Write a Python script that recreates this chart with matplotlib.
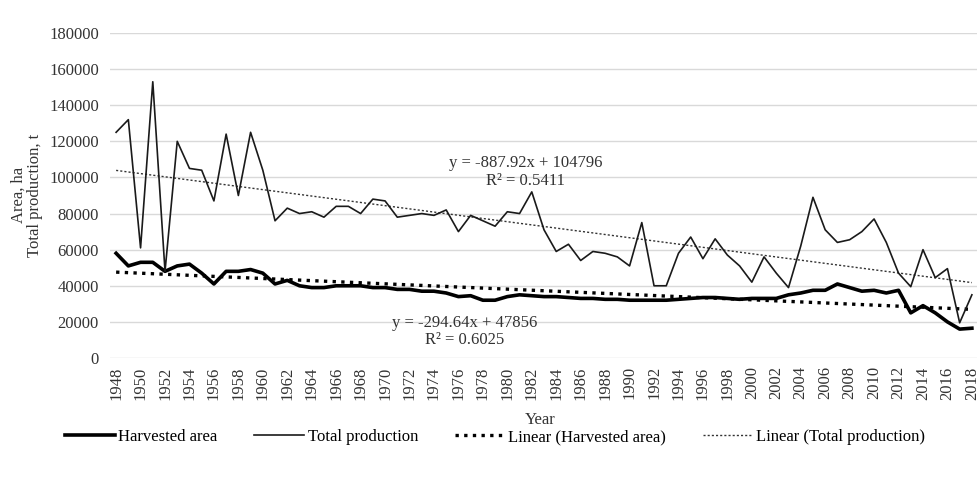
import numpy as np
import matplotlib
matplotlib.use("Agg")
import matplotlib.pyplot as plt

plt.rcParams['font.family'] = ['Liberation Serif', 'DejaVu Serif']

# Years and series
years = list(range(1948, 2019))

harvested_area = [58000, 51000, 53000, 53000, 48000, 51000, 52000, 47000, 41000, 48000,
                  48000, 49000, 47000, 41000, 43000, 40000, 39000, 39000, 40000, 40000,
                  40000, 39000, 39000, 38000, 38000, 37000, 37000, 36000, 34000, 34500,
                  32000, 32000, 34000, 35000, 34500, 34000, 34000, 33500, 33000, 33000,
                  32500, 32500, 32000, 32000, 32000, 32000, 32500, 33000, 33500, 33500,
                  33000, 32500, 33000, 33000, 33000, 35000, 36000, 37500, 37500, 41000,
                  39000, 37000, 37500, 36000, 37500, 25000, 29000, 25000, 20000, 16000,
                  16500]

total_production = [125000, 132000, 61000, 153000, 48000, 120000, 105000, 104000, 87000, 124000,
                    90000, 125000, 104000, 76000, 83000, 80000, 81000, 78000, 84000, 84000,
                    80000, 88000, 87000, 78000, 79000, 80000, 79000, 82000, 70000, 79000,
                    76000, 73000, 81000, 80000, 92000, 71000, 59000, 63000, 54000, 59000,
                    58000, 56000, 51000, 75000, 40000, 40000, 58000, 67000, 55000, 66000,
                    57000, 51000, 42000, 56000, 47000, 39000, 62000, 89000, 71000, 64000,
                    65500, 70000, 77000, 64000, 47000, 39500, 60000, 44500, 49500, 19500,
                    35000]

# Linear trend coefficients as printed on the chart (x = 1..71)
trend_area = (-294.64, 47856)
trend_prod = (-887.92, 104796)

x = np.arange(len(years))
xi = x + 1

fig = plt.figure(figsize=(9.78, 4.78), dpi=100)
ax = fig.add_axes([110 / 978, 1 - 358 / 478, 868 / 978, 325 / 478])

ax.plot(x, harvested_area, color='black', linewidth=2.6, label='Harvested area', zorder=4)
ax.plot(x, total_production, color='#1a1a1a', linewidth=1.2, label='Total production', zorder=4)
ax.plot(x, trend_area[0] * xi + trend_area[1], color='black', linewidth=2.4,
        linestyle=(0, (1, 1.6)), label='Linear (Harvested area)', zorder=3)
ax.plot(x, trend_prod[0] * xi + trend_prod[1], color='#333333', linewidth=1.0,
        linestyle=(0, (1.5, 1.5)), label='Linear (Total production)', zorder=3)

ax.set_xlim(-0.5, len(years) - 0.5)
ax.set_ylim(0, 180000)
ax.set_yticks(np.arange(0, 180001, 20000))
ax.set_xticks(x[::2])
ax.set_xticklabels([str(y) for y in years[::2]], rotation=90, fontsize=12, color='#333333')
ax.tick_params(axis='y', labelsize=12, colors='#333333', length=0, pad=8)
ax.tick_params(axis='x', length=0, pad=6)
ax.grid(axis='y', color='#d9d9d9', linewidth=1)
ax.set_axisbelow(True)
for s in ax.spines.values():
    s.set_visible(False)

ax.text(33.5, 103000, 'y = -887.92x + 104796\nR² = 0.5411', ha='center', va='center',
        fontsize=12, color='#333333', linespacing=1.1)
ax.text(28.5, 14700, 'y = -294.64x + 47856\nR² = 0.6025', ha='center', va='center',
        fontsize=12, color='#333333', linespacing=1.1)

fig.text(27 / 978, 1 - 195 / 478, 'Area, ha\nTotal production, t', rotation=90,
         ha='center', va='center', fontsize=12, color='#333333', linespacing=1.0)
fig.text(540 / 978, 1 - 420 / 478, 'Year', ha='center', va='center', fontsize=12, color='#333333')

fig.legend(loc='center', bbox_to_anchor=(495 / 978, 1 - 437 / 478), ncol=4, frameon=False,
           fontsize=12, handlelength=3.0, columnspacing=2.2, handletextpad=0.2)

fig.savefig('out.png', dpi=100)
